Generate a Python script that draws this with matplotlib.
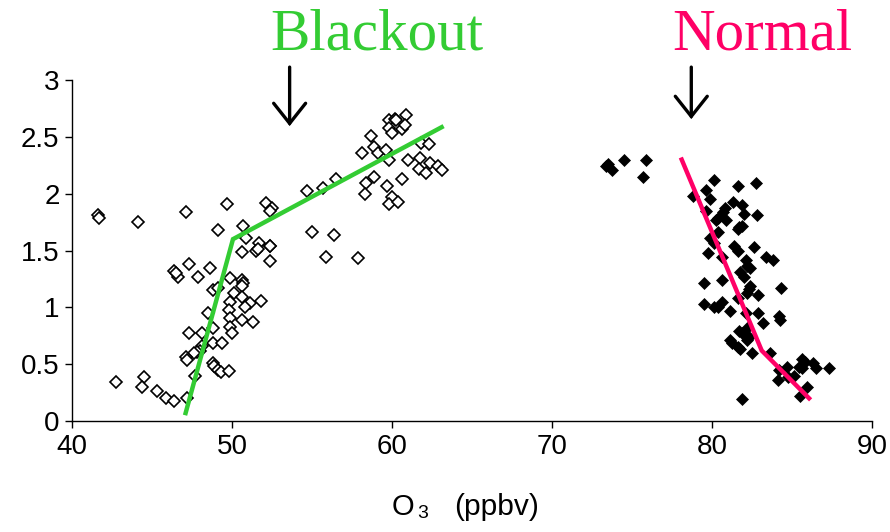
import matplotlib
matplotlib.use("Agg")
import matplotlib.pyplot as plt

# Blackout (open diamonds)
blackout_x = [41.6, 41.7, 44.1, 47.1, 42.75, 44.5, 44.4, 45.3, 45.9, 46.4, 47.2,
              46.4, 46.6, 46.5, 47.3, 47.9, 48.6, 49.7, 49.1, 50.7, 50.9, 50.6,
              51.7, 51.5, 52.4, 52.4, 52.1, 52.5, 49.9, 48.8, 49.1, 50.6, 50.7,
              50.6, 50.1, 49.9, 50.6, 51.1, 51.8, 50.8, 49.8, 48.5, 49.9, 50.6,
              51.3, 49.9, 48.8, 50.0, 47.3, 48.1, 48.8, 49.4, 48.1, 48.0, 47.8,
              47.6, 47.1, 47.2, 48.8, 48.9, 49.1, 49.3, 49.8, 47.7,
              52.4, 54.7, 55.7, 56.5, 55.0, 56.4, 55.9, 57.9, 58.1, 58.7, 58.9,
              59.1, 59.6, 59.8, 58.4, 58.3, 58.9, 59.7, 60.0, 59.8, 60.4, 60.6,
              59.8, 60.2, 60.25, 60.9, 59.8, 60.0, 60.6, 60.8, 61.8, 62.3, 61.0,
              61.75, 61.7, 62.1, 62.4, 62.9, 63.1, 51.6, 52.4]
blackout_y = [1.81, 1.79, 1.75, 1.84, 0.34, 0.39, 0.30, 0.26, 0.20, 0.18, 0.20,
              1.32, 1.27, 1.30, 1.38, 1.27, 1.35, 1.91, 1.68, 1.72, 1.61, 1.49,
              1.57, 1.50, 1.54, 1.41, 1.92, 1.87, 1.26, 1.15, 1.17, 1.24, 1.21,
              1.19, 1.13, 1.05, 1.09, 1.04, 1.06, 1.00, 0.98, 0.95, 0.91, 0.89,
              0.87, 0.83, 0.82, 0.77, 0.77, 0.77, 0.69, 0.69, 0.66, 0.62, 0.61,
              0.60, 0.56, 0.54, 0.51, 0.48, 0.45, 0.43, 0.44, 0.40,
              1.85, 2.02, 2.05, 2.13, 1.66, 1.64, 1.44, 1.43, 2.36, 2.51, 2.41,
              2.36, 2.38, 2.30, 2.09, 2.00, 2.15, 2.07, 1.97, 1.91, 1.93, 2.13,
              2.65, 2.66, 2.65, 2.69, 2.58, 2.53, 2.57, 2.60, 2.45, 2.44, 2.30,
              2.31, 2.22, 2.18, 2.27, 2.24, 2.21, 1.51, 1.54]

# Normal (filled diamonds)
normal_x = [73.5, 73.75, 73.4, 74.5, 75.9, 75.7,
            80.1, 81.6, 82.75, 78.8, 79.6, 79.9, 81.3, 81.9, 79.6, 80.8, 80.7,
            80.4, 80.25, 80.9, 82.0, 82.8, 81.7, 81.6, 81.9, 80.4, 79.9, 80.1,
            81.4, 81.6, 82.6, 79.75, 80.6, 82.1, 82.2, 82.4, 83.4, 83.8, 81.75,
            82.0, 79.5, 80.6, 82.4, 82.3, 82.2, 84.3, 82.9, 81.6, 79.5, 80.1,
            80.4, 80.6, 81.1, 82.1, 82.9, 84.2, 84.25, 83.2, 81.7, 81.9, 82.2,
            82.3, 82.2, 81.1, 81.25, 81.6, 81.75, 82.5, 83.6, 85.6, 85.8, 86.3,
            86.5, 87.3, 84.7, 84.2, 85.6, 85.4, 84.1, 84.75, 85.1, 85.9, 85.5,
            81.9]
normal_y = [2.26, 2.21, 2.24, 2.30, 2.30, 2.15,
            2.12, 2.07, 2.09, 1.98, 2.03, 1.95, 1.93, 1.90, 1.85, 1.87, 1.84,
            1.79, 1.77, 1.77, 1.82, 1.81, 1.71, 1.69, 1.72, 1.66, 1.61, 1.57,
            1.54, 1.50, 1.53, 1.48, 1.44, 1.42, 1.36, 1.35, 1.44, 1.42, 1.31,
            1.27, 1.21, 1.24, 1.19, 1.16, 1.13, 1.17, 1.11, 1.08, 1.03, 1.00,
            1.00, 1.05, 0.97, 0.95, 0.95, 0.92, 0.89, 0.86, 0.79, 0.77, 0.82,
            0.74, 0.71, 0.71, 0.69, 0.65, 0.63, 0.60, 0.60, 0.55, 0.52, 0.51,
            0.47, 0.47, 0.475, 0.45, 0.47, 0.475, 0.36, 0.39, 0.40, 0.30, 0.22,
            0.19]

# Piecewise fit lines
blackout_fit_x = [47.1, 50.06, 63.1]
blackout_fit_y = [0.07, 1.60, 2.585]
normal_fit_x = [78.1, 83.1, 86.06]
normal_fit_y = [2.30, 0.62, 0.20]

x_ticks = [40, 50, 60, 70, 80, 90]
y_ticks = [0, 0.5, 1, 1.5, 2, 2.5, 3]
y_tick_labels = ["0", "0.5", "1", "1.5", "2", "2.5", "3"]

GREEN = "#33CC33"
PINK = "#FF0066"

plt.rcParams["font.family"] = ["Liberation Sans", "DejaVu Sans"]

fig = plt.figure(figsize=(8.9, 5.32), dpi=100)
ax = fig.add_axes([0.0809, 0.2086, 0.899, 0.641])

ax.plot(blackout_x, blackout_y, linestyle="none", marker="D", markersize=6,
        markerfacecolor="white", markeredgecolor="black", markeredgewidth=1.2,
        zorder=2)
ax.plot(normal_x, normal_y, linestyle="none", marker="D", markersize=6.5,
        markerfacecolor="black", markeredgecolor="black", markeredgewidth=0.5,
        zorder=2)
ax.plot(blackout_fit_x, blackout_fit_y, color=GREEN, linewidth=3.2, zorder=3,
        solid_joinstyle="miter")
ax.plot(normal_fit_x, normal_fit_y, color=PINK, linewidth=3.2, zorder=3,
        solid_joinstyle="miter")

ax.set_xlim(40, 90)
ax.set_ylim(0, 3)
ax.set_xticks(x_ticks)
ax.set_yticks(y_ticks)
ax.set_yticklabels(y_tick_labels)
ax.tick_params(axis="both", labelsize=20, length=5, width=1, direction="out",
               pad=4)
for s in ("top", "right"):
    ax.spines[s].set_visible(False)
for s in ("left", "bottom"):
    ax.spines[s].set_linewidth(1)

# X-axis label built from pieces: "O", subscript "3", "(ppbv)"
base_y = 1 - 515 / 532
fig.text(392 / 890, base_y, "O", ha="left", va="baseline", fontsize=21)
fig.text(417 / 890, 1 - 518 / 532, "3", ha="left", va="baseline", fontsize=14)
fig.text(454 / 890, base_y, "(ppbv)", ha="left", va="baseline", fontsize=21.5)

# Titles
fig.text(377 / 890, 1 - 49 / 532, "Blackout", ha="center", va="baseline",
         fontsize=42.5, color=GREEN, family="Liberation Serif")
fig.text(762 / 890, 1 - 49 / 532, "Normal", ha="center", va="baseline",
         fontsize=42.5, color=PINK, family="Liberation Serif")

# Arrows
for xa, y0, y1 in [(53.6, 67, 126), (78.7, 67, 119)]:
    ax.annotate("", xy=(xa, (421 - y1) / 113.7), xytext=(xa, (421 - y0) / 113.7),
                xycoords="data", textcoords="data", annotation_clip=False,
                arrowprops=dict(arrowstyle="->,head_length=1.45,head_width=1.15",
                                color="black", lw=2.4, shrinkA=0, shrinkB=0,
                                joinstyle="miter"))

fig.savefig("out.png", dpi=100)
